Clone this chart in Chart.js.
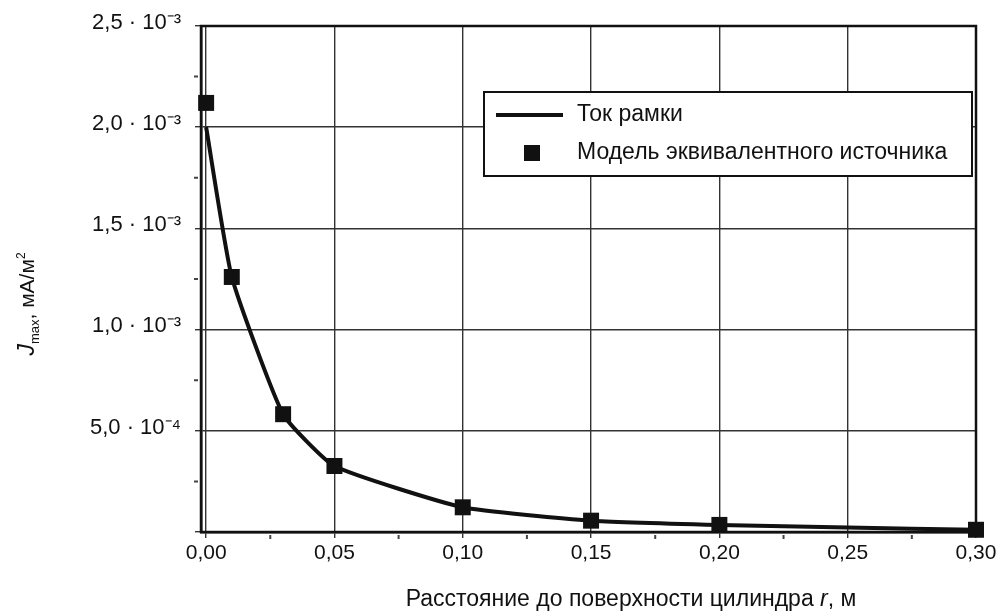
<!DOCTYPE html>
<html><head><meta charset="utf-8">
<script src="https://cdn.jsdelivr.net/npm/chart.js@4/dist/chart.umd.min.js"></script>
<style>html,body{margin:0;padding:0;background:#fff;} canvas{display:block;}</style>
</head><body>
<canvas id="c" width="1000" height="613"></canvas>
<script>
// ---- data ----
const xTickValues = [0, 0.05, 0.10, 0.15, 0.20, 0.25, 0.30];
const xTickLabels = ['0,00', '0,05', '0,10', '0,15', '0,20', '0,25', '0,30'];
const yTickValues = [0, 0.0005, 0.0010, 0.0015, 0.0020, 0.0025];
const yTickLabels = ['', '5,0 · 10⁻⁴', '1,0 · 10⁻³', '1,5 · 10⁻³', '2,0 · 10⁻³', '2,5 · 10⁻³'];
const xMinorValues = [0.025, 0.075, 0.125, 0.175, 0.225, 0.275];
const yMinorValues = [0.00025, 0.00075, 0.00125, 0.00175, 0.00225];

const lineX = [0, 0.01, 0.03, 0.05, 0.10, 0.15, 0.20, 0.25, 0.30];
const lineY = [0.00200, 0.00126, 0.000582, 0.000326, 0.000122, 0.000056, 0.000035, 0.000022, 0.000011];
const modelX = [0, 0.01, 0.03, 0.05, 0.10, 0.15, 0.20, 0.30];
const modelY = [0.00212, 0.00126, 0.000582, 0.000326, 0.000122, 0.000056, 0.000035, 0.000011];

const seriesNames = ['Ток рамки', 'Модель эквивалентного источника'];
const xTitleParts = ['Расстояние до поверхности цилиндра ', 'r', ', м'];
const yTitleParts = ['J', 'max', ', мА/м', '2'];

// ---- styles ----
const FONT = '"Liberation Sans", Arial, sans-serif';
const INK = '#111';

function drawRich(ctx, parts, cx, baseY) {
  let total = 0;
  parts.forEach(p => { ctx.font = p.font; p.w = ctx.measureText(p.text).width; total += p.w; });
  let x = cx - total / 2;
  ctx.textAlign = 'left';
  ctx.textBaseline = 'alphabetic';
  parts.forEach(p => { ctx.font = p.font; ctx.fillText(p.text, x, baseY + (p.dy || 0)); x += p.w; });
}

const decor = {
  id: 'decor',
  beforeDatasetsDraw(chart) {
    const ctx = chart.ctx, ca = chart.chartArea;
    const xs = chart.scales.x, ys = chart.scales.y;
    ctx.save();
    ctx.strokeStyle = INK;
    ctx.lineWidth = 2.5;
    ctx.strokeRect(ca.left, ca.top, ca.right - ca.left, ca.bottom - ca.top);
    ctx.strokeStyle = '#444';
    ctx.lineWidth = 2;
    ctx.beginPath();
    xMinorValues.forEach(v => { const px = xs.getPixelForValue(v); ctx.moveTo(px, ca.bottom + 3); ctx.lineTo(px, ca.bottom + 7); });
    yMinorValues.forEach(v => { const py = ys.getPixelForValue(v); ctx.moveTo(ca.left - 3, py); ctx.lineTo(ca.left - 7, py); });
    ctx.stroke();
    ctx.restore();
  },
  afterDraw(chart) {
    const ctx = chart.ctx, ca = chart.chartArea;
    ctx.save();
    // legend
    const lx = ca.left + 283, ly = ca.top + 66, lw = 488, lh = 84;
    ctx.fillStyle = '#fff';
    ctx.fillRect(lx, ly, lw, lh);
    ctx.strokeStyle = INK;
    ctx.lineWidth = 2;
    ctx.strokeRect(lx, ly, lw, lh);
    ctx.lineWidth = 4;
    ctx.beginPath();
    ctx.moveTo(lx + 12, ly + 23); ctx.lineTo(lx + 79, ly + 23);
    ctx.stroke();
    ctx.fillStyle = INK;
    ctx.fillRect(lx + 40, ly + 53, 16, 16);
    ctx.font = '23px ' + FONT;
    ctx.textAlign = 'left';
    ctx.textBaseline = 'middle';
    ctx.fillText(chart.data.datasets[0].label, lx + 93, ly + 23);
    ctx.fillText(chart.data.datasets[1].label, lx + 93, ly + 61);

    // x title
    drawRich(ctx, [
      { text: xTitleParts[0], font: '23px ' + FONT },
      { text: xTitleParts[1], font: 'italic 23px ' + FONT },
      { text: xTitleParts[2], font: '23px ' + FONT }
    ], 631, 606);

    // y title
    ctx.translate(34, 304);
    ctx.rotate(-Math.PI / 2);
    drawRich(ctx, [
      { text: yTitleParts[0], font: 'italic 23px ' + FONT },
      { text: yTitleParts[1], font: '13px ' + FONT, dy: 5 },
      { text: yTitleParts[2], font: '21px ' + FONT },
      { text: yTitleParts[3], font: '12px ' + FONT, dy: -9 }
    ], 0, 0);
    ctx.restore();
  }
};

new Chart(document.getElementById('c'), {
  type: 'line',
  data: {
    datasets: [
      {
        label: seriesNames[0],
        data: lineX.map((x, i) => ({ x, y: lineY[i] })),
        borderColor: INK,
        borderWidth: 4,
        pointRadius: 0,
        tension: 0.15,
        fill: false
      },
      {
        label: seriesNames[1],
        data: modelX.map((x, i) => ({ x, y: modelY[i] })),
        showLine: false,
        pointStyle: 'rect',
        pointRadius: 11.3,
        pointBackgroundColor: INK,
        pointBorderColor: INK,
        pointBorderWidth: 0,
        clip: false
      }
    ]
  },
  options: {
    responsive: false,
    animation: false,
    devicePixelRatio: 1,
    layout: { padding: { left: 0, top: 26, right: 24, bottom: 0 } },
    plugins: { legend: { display: false }, tooltip: { enabled: false } },
    scales: {
      x: {
        type: 'linear',
        min: -0.002,
        max: 0.30,
        afterBuildTicks: s => { s.ticks = xTickValues.map(v => ({ value: v })); },
        afterFit: s => { s.height = 81; s.paddingLeft = 0; s.paddingRight = 0; },
        ticks: {
          autoSkip: false,
          maxRotation: 0,
          padding: 3,
          color: INK,
          font: { family: FONT, size: 21 },
          callback: (v, i) => xTickLabels[i]
        },
        grid: { color: '#333', lineWidth: 1.4, tickLength: 6, drawTicks: true },
        border: { display: true, color: INK, width: 2.5 }
      },
      y: {
        type: 'linear',
        min: 0,
        max: 0.0025,
        afterBuildTicks: s => { s.ticks = yTickValues.map(v => ({ value: v })); },
        afterFit: s => { s.width = 201; s.paddingTop = 0; s.paddingBottom = 0; },
        ticks: {
          autoSkip: false,
          padding: 14,
          color: INK,
          font: { family: FONT, size: 22, lineHeight: 0.3 },
          callback: (v, i) => (yTickLabels[i] ? [yTickLabels[i], ''] : '')
        },
        grid: { color: '#333', lineWidth: 1.4, tickLength: 6, drawTicks: true },
        border: { display: true, color: INK, width: 2.5 }
      }
    }
  },
  plugins: [decor]
});
</script>
</body></html>
